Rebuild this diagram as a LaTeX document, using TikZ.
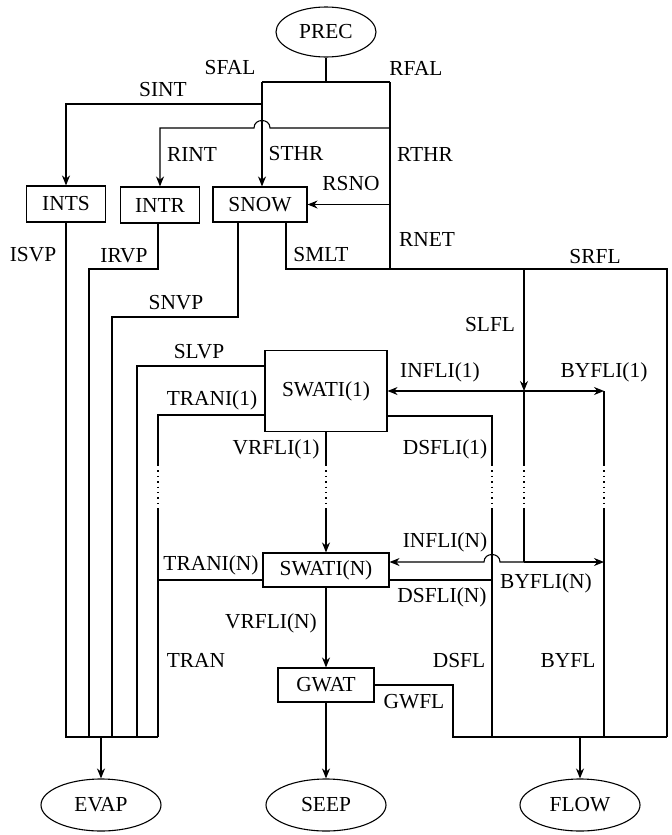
\documentclass[tikz,border=0pt]{standalone}
\usepackage{fontspec}
\setmainfont{Liberation Serif}
\usetikzlibrary{arrows.meta,shapes.geometric}
\begin{document}
\begin{tikzpicture}[x=0.5pt,y=-0.5pt,line width=0.55pt,
  every node/.style={font=\fontsize{10.7}{12}\selectfont,inner sep=0pt},
  box/.style={draw,rectangle,line width=0.55pt},
  oval/.style={draw,ellipse,line width=0.55pt,minimum width=60pt,minimum height=26pt},
  arr/.style={-{Stealth[length=5pt,width=4pt]}},
  dots/.style={dotted,line width=0.7pt}]
\useasboundingbox (0,0) rectangle (671,835);
% nodes
\node[oval,minimum width=50pt,minimum height=25pt] (prec) at (326,32) {PREC};
\node[box,minimum width=39.5pt,minimum height=18pt] (ints) at (66,204) {INTS};
\node[box,minimum width=39.5pt,minimum height=18pt] (intr) at (160,205) {INTR};
\node[box,minimum width=47pt,minimum height=17.5pt] (snow) at (260,204.5) {SNOW};
\node[box,minimum width=61pt,minimum height=40.5pt] (swat1) at (326,391) {SWATI(1)};
\node[box,minimum width=63pt,minimum height=17pt] (swatn) at (326,570) {SWATI(N)};
\node[box,minimum width=48pt,minimum height=17pt] (gwat) at (326,685) {GWAT};
\node[oval] (evap) at (101,805) {EVAP};
\node[oval] (seep) at (326,805) {SEEP};
\node[oval] (flow) at (580,805) {FLOW};
% junction coordinates
\coordinate (j0) at (326,82);
\coordinate (jl) at (262,82);
\coordinate (jr) at (390,82);
\coordinate (sint) at (262,104);
\coordinate (rint) at (390,128);
\coordinate (rsno) at (390,204.5);
\coordinate (rnet) at (390,269);
\coordinate (slfl) at (524,269);
\coordinate (in1) at (524,391);
\coordinate (inn) at (524,562);
\coordinate (bot) at (667,737);
% top
\draw (prec.south) -- (j0);
\draw (jl) -- (jr);
\draw[arr] (jl) -- (jl |- snow.north);
\draw[arr] (sint) -- (66,104) -- (ints.north);
\draw[arr] (rint) -- (270,128) .. controls (270,118) and (254,118) .. (254,128) -- (160,128) -- (intr.north);
\draw (jr) -- (rnet);
\draw[arr] (rsno) -- (snow.east);
\draw (286,222) -- (286,269) -- (667,269) -- (bot);
% soil water chain
\draw[arr] (slfl) -- (in1);
\draw (in1) -- (524,465);
\draw[dots] (524,465) -- (524,510);
\draw (524,510) -- (inn);
\draw[arr] (in1) -- (swat1.east |- in1);
\draw[arr] (in1) -- (604,391);
\draw (604,391) -- (604,465);
\draw[dots] (604,465) -- (604,510);
\draw (604,510) -- (604,737);
\draw[arr] (inn) -- (500,562) .. controls (500,552) and (484,552) .. (484,562) -- (swatn.east |- inn);
\draw[arr] (inn) -- (604,562);
\draw (swat1.east |- 0,416) -- (492,416) -- (492,465);
\draw[dots] (492,465) -- (492,510);
\draw (492,510) -- (492,737);
\draw (swatn.east |- 0,580) -- (492,580);
\draw (swat1.south) -- (326,465);
\draw[dots] (326,465) -- (326,510);
\draw[arr] (326,510) -- (swatn.north);
\draw[arr] (swatn.south) -- (gwat.north);
\draw[arr] (gwat.south) -- (seep.north);
\draw (gwat.east) -- (453,685) -- (453,737) -- (bot);
\draw[arr] (580,737) -- (flow.north);
% evaporation side
\draw (ints.south) -- (66,737);
\draw (158,223) -- (158,269) -- (89,269) -- (89,737);
\draw (238,222) -- (238,317) -- (112,317) -- (112,737);
\draw (swat1.west |- 0,366) -- (137,366) -- (137,737);
\draw (swat1.west |- 0,415) -- (158,415) -- (158,465);
\draw[dots] (158,465) -- (158,510);
\draw (158,510) -- (158,737);
\draw (swatn.west |- 0,580) -- (158,580);
\draw (65,737) -- (158,737);
\draw[arr] (101,737) -- (evap.north);
% labels
\node (tSFAL) at (230,68) {SFAL};
\node (tRFAL) at (416,68) {RFAL};
\node (tSINT) at (163,90) {SINT};
\node (tRINT) at (192,154) {RINT};
\node (tSTHR) at (296,154) {STHR};
\node (tRTHR) at (425,154) {RTHR};
\node (tRSNO) at (351,184) {RSNO};
\node (tISVP) at (33,255) {ISVP};
\node (tIRVP) at (124,256) {IRVP};
\node (tSMLT) at (321,255) {SMLT};
\node (tRNET) at (427,239) {RNET};
\node (tSRFL) at (595,257) {SRFL};
\node (tSNVP) at (176,303) {SNVP};
\node (tSLFL) at (490,325) {SLFL};
\node (tSLVP) at (199,352) {SLVP};
\node (tINFL1) at (440,372) {INFLI(1)};
\node (tBYFL1) at (604,372) {BYFLI(1)};
\node (tTRAN1) at (212,400) {TRANI(1)};
\node (tVRFL1) at (276,449) {VRFLI(1)};
\node (tDSFL1) at (445,449) {DSFLI(1)};
\node (tINFLN) at (445,542) {INFLI(N)};
\node (tTRANN) at (211,565) {TRANI(N)};
\node (tBYFLN) at (546,583) {BYFLI(N)};
\node (tDSFLN) at (442,597) {DSFLI(N)};
\node (tVRFLN) at (271,623) {VRFLI(N)};
\node (tTRAN) at (196,660) {TRAN};
\node (tDSFL) at (459,661) {DSFL};
\node (tBYFL) at (568,661) {BYFL};
\node (tGWFL) at (414,702) {GWFL};
\end{tikzpicture}
\end{document}
